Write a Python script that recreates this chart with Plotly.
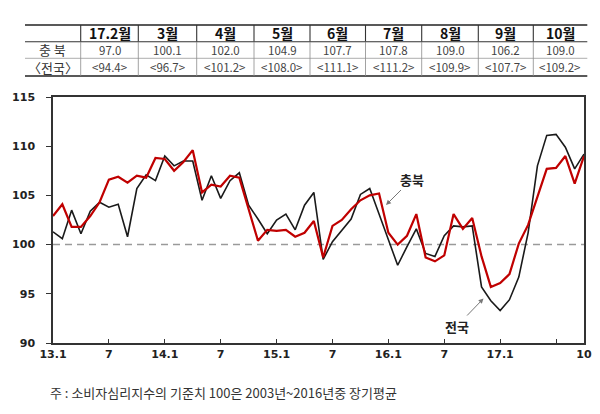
import plotly.graph_objects as go

# ---------------- data ----------------
months = ["13.1","13.2","13.3","13.4","13.5","13.6","13.7","13.8","13.9","13.10","13.11","13.12",
          "14.1","14.2","14.3","14.4","14.5","14.6","14.7","14.8","14.9","14.10","14.11","14.12",
          "15.1","15.2","15.3","15.4","15.5","15.6","15.7","15.8","15.9","15.10","15.11","15.12",
          "16.1","16.2","16.3","16.4","16.5","16.6","16.7","16.8","16.9","16.10","16.11","16.12",
          "17.1","17.2","17.3","17.4","17.5","17.6","17.7","17.8","17.9","17.10"]

chungbuk = [102.9,104.1,101.8,101.8,102.9,104.3,106.6,106.9,106.3,107.0,106.8,108.8,
            108.7,107.5,108.4,109.6,105.3,106.1,105.9,107.0,106.8,103.6,100.4,101.5,
            101.4,101.5,100.8,101.2,102.4,98.7,101.9,102.5,103.6,104.5,105.0,105.2,
            101.2,100.0,100.9,103.1,98.7,98.3,98.9,103.1,101.6,102.7,98.8,95.7,
            96.1,97.0,100.1,102.0,104.9,107.7,107.8,109.0,106.2,109.0]

national = [101.3,100.6,103.5,101.1,103.4,104.3,103.8,104.1,100.8,105.7,107.1,106.5,
            109.0,108.0,108.5,108.5,104.5,107.0,104.7,106.5,107.3,104.0,102.6,101.1,
            102.5,103.1,101.5,104.0,105.3,98.5,100.3,101.5,102.6,105.1,105.7,103.1,
            100.5,97.9,99.8,101.6,99.1,98.8,100.9,101.9,101.8,101.9,95.7,94.3,
            93.3,94.4,96.7,101.2,108.0,111.1,111.2,109.9,107.7,109.2]

x_tickvals = ["13.1","13.7","14.1","14.7","15.1","15.7","16.1","16.7","17.1","17.7","17.10"]
x_ticktext = ["13.1","7","14.1","7","15.1","7","16.1","7","17.1","","10"]
y_tickvals = [90, 95, 100, 105, 110, 115]

table_header = ["17.2월","3월","4월","5월","6월","7월","8월","9월","10월"]
table_cb = [97.0,100.1,102.0,104.9,107.7,107.8,109.0,106.2,109.0]
table_nat = [94.4,96.7,101.2,108.0,111.1,111.2,109.9,107.7,109.2]
row_labels = ["충 북","〈전국〉"]

footnote = "주 : 소비자심리지수의 기준치 100은 2003년~2016년중 장기평균"

# ---------------- layout geometry (pixels) ----------------
W, H = 600, 414
L, R, T, B = 53, 584, 97, 343

def PX(x):
    return (x - L) / (R - L)

def PY(y):
    return (B - y) / (B - T)

fig = go.Figure()
fig.add_trace(go.Scatter(x=months, y=national, mode="lines",
                         line=dict(color="#1a1a1a", width=1.6), name="전국",
                         hoverinfo="x+y"))
fig.add_trace(go.Scatter(x=months, y=chungbuk, mode="lines",
                         line=dict(color="#c00000", width=2.2), name="충북",
                         hoverinfo="x+y"))

shapes = []
annotations = []

shapes.append(dict(type="line", xref="paper", yref="y", x0=0, x1=1, y0=100, y1=100,
                   line=dict(color="#9a9a9a", width=1.5, dash="7px,5px"), layer="below"))

# ---------------- table ----------------
col_edges = [25, 80.7, 138.3, 196.7, 254, 310, 365.5, 421.7, 478.3, 533.3, 587.3]
row_edges = [25, 41.7, 58.3, 76]

shapes.append(dict(type="line", xref="paper", yref="paper", x0=PX(col_edges[0]), x1=PX(col_edges[-1]),
                   y0=PY(row_edges[0]), y1=PY(row_edges[0]), line=dict(color="#222", width=1.6)))
shapes.append(dict(type="line", xref="paper", yref="paper", x0=PX(col_edges[0]), x1=PX(col_edges[-1]),
                   y0=PY(row_edges[1]), y1=PY(row_edges[1]), line=dict(color="#333", width=1.1)))
shapes.append(dict(type="line", xref="paper", yref="paper", x0=PX(col_edges[0]), x1=PX(col_edges[-1]),
                   y0=PY(row_edges[2]), y1=PY(row_edges[2]), line=dict(color="#999", width=0.8)))
shapes.append(dict(type="line", xref="paper", yref="paper", x0=PX(col_edges[0]), x1=PX(col_edges[-1]),
                   y0=PY(row_edges[3]), y1=PY(row_edges[3]), line=dict(color="#222", width=1.6)))
for cx in col_edges[1:-1]:
    shapes.append(dict(type="line", xref="paper", yref="paper", x0=PX(cx), x1=PX(cx),
                       y0=PY(row_edges[0]), y1=PY(row_edges[1]), line=dict(color="#333", width=1.1)))
    shapes.append(dict(type="line", xref="paper", yref="paper", x0=PX(cx), x1=PX(cx),
                       y0=PY(row_edges[1]), y1=PY(row_edges[3]), line=dict(color="#8a8a8a", width=0.8)))

cjk = "Noto Sans CJK KR"
row_centers = [(row_edges[i] + row_edges[i + 1]) / 2 for i in range(3)]
for i, h in enumerate(table_header):
    cx = (col_edges[i + 1] + col_edges[i + 2]) / 2
    annotations.append(dict(xref="paper", yref="paper", x=PX(cx), y=PY(row_centers[0]), text=h,
                            showarrow=False, xanchor="center", yanchor="middle",
                            font=dict(family=cjk, size=14, color="#111", weight="bold")))
    annotations.append(dict(xref="paper", yref="paper", x=PX(cx), y=PY(row_centers[1]),
                            text=f"{table_cb[i]:.1f}", showarrow=False, xanchor="center", yanchor="middle",
                            font=dict(family=cjk, size=11.5, color="#444")))
    annotations.append(dict(xref="paper", yref="paper", x=PX(cx), y=PY(row_centers[2]),
                            text=f"&lt;{table_nat[i]:.1f}&gt;", showarrow=False, xanchor="center",
                            yanchor="middle", font=dict(family=cjk, size=11.5, color="#444")))
for j, lab in enumerate(row_labels):
    cx = (col_edges[0] + col_edges[1]) / 2
    annotations.append(dict(xref="paper", yref="paper", x=PX(cx), y=PY(row_centers[j + 1]), text=lab,
                            showarrow=False, xanchor="center", yanchor="middle",
                            font=dict(family=cjk, size=13, color="#333")))

# ---------------- series labels ----------------
annotations.append(dict(xref="paper", yref="paper", x=PX(386), y=PY(205), text="충북",
                        showarrow=True, ax=26, ay=-26, arrowhead=2, arrowsize=1, arrowwidth=1,
                        arrowcolor="#777", font=dict(family=cjk, size=13, color="#222", weight="bold")))
annotations.append(dict(xref="paper", yref="paper", x=PX(483.5), y=PY(298.5), text="전국",
                        showarrow=True, ax=-27, ay=28, arrowhead=2, arrowsize=1, arrowwidth=1,
                        arrowcolor="#777", font=dict(family=cjk, size=13, color="#222", weight="bold")))

annotations.append(dict(xref="paper", yref="paper", x=PX(48), y=PY(392), text=footnote,
                        showarrow=False, xanchor="left", yanchor="middle",
                        font=dict(family=cjk, size=13, color="#333")))

axis_font = dict(family="DejaVu Sans", size=11, color="#222", weight="bold")

fig.update_layout(
    width=W, height=H,
    margin=dict(l=L, r=W - R, t=T, b=H - B, pad=0, autoexpand=False),
    paper_bgcolor="white", plot_bgcolor="white",
    showlegend=False,
    shapes=shapes, annotations=annotations,
    xaxis=dict(type="category", categoryorder="array", categoryarray=months,
               range=[0, len(months) - 1], tickmode="array", tickvals=x_tickvals, ticktext=x_ticktext,
               showgrid=False, zeroline=False, showline=True, linecolor="#333", linewidth=1.5,
               mirror=True, ticks="inside", ticklen=4, tickcolor="#333", tickwidth=1,
               tickfont=axis_font, tickangle=0, automargin=False),
    yaxis=dict(range=[90, 115], tickmode="array", tickvals=y_tickvals,
               showgrid=False, zeroline=False, showline=True, linecolor="#333", linewidth=1.5,
               mirror=True, ticks="outside", ticklen=5, tickcolor="#333", tickwidth=1,
               tickfont=axis_font, ticklabelstandoff=9, automargin=False),
)

fig.write_html("out.html", config={"displayModeBar": False},
               post_script="document.body.style.margin='0';document.body.style.overflow='hidden';")
